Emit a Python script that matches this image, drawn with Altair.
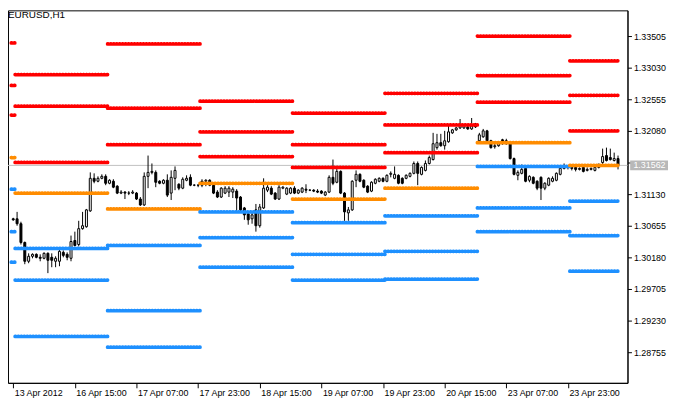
import altair as alt
import pandas as pd

# ---------------- data ----------------
symbol_title = "EURUSD,H1"
last_price = 1.31562

bar_open = [
    1.30760, 1.30760, 1.30686, 1.30404, 1.30122, 1.30197, 1.30226, 1.30182, 1.30167, 1.30241,
    1.30182, 1.30122, 1.30122, 1.30256, 1.30226, 1.30167, 1.30434, 1.30374, 1.30612, 1.30641,
    1.30879, 1.31368, 1.31324, 1.31368, 1.31398, 1.31294, 1.31324, 1.31250, 1.31146, 1.31161,
    1.31146, 1.31146, 1.31146, 1.31057, 1.30968, 1.31398, 1.31457, 1.31457, 1.31324, 1.31294,
    1.31339, 1.31146, 1.31368, 1.31279, 1.31220, 1.31339, 1.31383, 1.31265, 1.31265, 1.31265,
    1.31324, 1.31339, 1.31265, 1.31161, 1.31087, 1.31146, 1.31161, 1.31161, 1.31176, 1.31087,
    1.30923, 1.30834, 1.30760, 1.30894, 1.30656, 1.30923, 1.31190, 1.31220, 1.31146, 1.31057,
    1.31220, 1.31131, 1.31146, 1.31220, 1.31146, 1.31161, 1.31205, 1.31190, 1.31190, 1.31176,
    1.31176, 1.31116, 1.31161, 1.31383, 1.31309, 1.31472, 1.31146, 1.30849, 1.30894, 1.31339,
    1.31428, 1.31339, 1.31250, 1.31176, 1.31294, 1.31324, 1.31368, 1.31324, 1.31428, 1.31368,
    1.31413, 1.31368, 1.31368, 1.31398, 1.31443, 1.31591, 1.31428, 1.31487, 1.31591, 1.31650,
    1.31829, 1.31903, 1.31858, 1.31918, 1.32051, 1.32096, 1.32125, 1.32125, 1.32140, 1.32110,
    1.32155, 1.31932, 1.31992, 1.32081, 1.31932, 1.31843, 1.31858, 1.31947, 1.31932, 1.31888,
    1.31665, 1.31413, 1.31443, 1.31517, 1.31339, 1.31383, 1.31324, 1.31383, 1.31220, 1.31265,
    1.31324, 1.31339, 1.31428, 1.31517, 1.31547, 1.31532, 1.31532, 1.31502, 1.31532, 1.31487,
    1.31502, 1.31487, 1.31532, 1.31606, 1.31710, 1.31680, 1.31636, 1.31665,
]
bar_high = [
    1.30775, 1.30864, 1.30716, 1.30419, 1.30241, 1.30241, 1.30241, 1.30226, 1.30256, 1.30256,
    1.30241, 1.30197, 1.30300, 1.30285, 1.30256, 1.30508, 1.30567, 1.30730, 1.30864, 1.30908,
    1.31457, 1.31443, 1.31398, 1.31428, 1.31428, 1.31354, 1.31354, 1.31265, 1.31190, 1.31176,
    1.31176, 1.31190, 1.31161, 1.31087, 1.31457, 1.31710, 1.31591, 1.31487, 1.31339, 1.31354,
    1.31428, 1.31487, 1.31547, 1.31294, 1.31383, 1.31413, 1.31428, 1.31279, 1.31279, 1.31354,
    1.31354, 1.31354, 1.31279, 1.31190, 1.31235, 1.31250, 1.31250, 1.31235, 1.31205, 1.31101,
    1.30938, 1.30849, 1.30864, 1.30983, 1.30983, 1.31368, 1.31265, 1.31250, 1.31161, 1.31265,
    1.31250, 1.31235, 1.31235, 1.31250, 1.31205, 1.31235, 1.31279, 1.31205, 1.31205, 1.31205,
    1.31190, 1.31176, 1.31413, 1.31650, 1.31532, 1.31487, 1.31161, 1.30938, 1.31339, 1.31487,
    1.31443, 1.31354, 1.31265, 1.31324, 1.31368, 1.31383, 1.31383, 1.31428, 1.31472, 1.31547,
    1.31428, 1.31383, 1.31428, 1.31457, 1.31621, 1.31621, 1.31547, 1.31636, 1.31710, 1.32051,
    1.32036, 1.32036, 1.32081, 1.32170, 1.32110, 1.32140, 1.32259, 1.32185, 1.32170, 1.32274,
    1.32200, 1.32051, 1.32110, 1.32096, 1.31947, 1.31888, 1.31903, 1.31962, 1.31962, 1.31903,
    1.31680, 1.31487, 1.31576, 1.31532, 1.31413, 1.31398, 1.31339, 1.31398, 1.31309, 1.31383,
    1.31398, 1.31457, 1.31532, 1.31591, 1.31561, 1.31547, 1.31547, 1.31532, 1.31547, 1.31532,
    1.31532, 1.31561, 1.31591, 1.31814, 1.31829, 1.31814, 1.31754, 1.31710,
]
bar_low = [
    1.30730, 1.30656, 1.30374, 1.30078, 1.30093, 1.30167, 1.30167, 1.30122, 1.30152, 1.29944,
    1.30033, 1.30033, 1.30048, 1.30182, 1.30137, 1.30122, 1.30345, 1.30345, 1.30597, 1.30627,
    1.30864, 1.31294, 1.31309, 1.31354, 1.31265, 1.31279, 1.31220, 1.31131, 1.31131, 1.31057,
    1.31116, 1.31131, 1.31042, 1.30953, 1.30953, 1.31220, 1.31428, 1.31235, 1.31279, 1.31279,
    1.31087, 1.31042, 1.31190, 1.31190, 1.31205, 1.31324, 1.31250, 1.31250, 1.31235, 1.31235,
    1.31250, 1.31250, 1.31131, 1.31072, 1.31072, 1.31131, 1.31087, 1.31072, 1.30864, 1.30879,
    1.30745, 1.30671, 1.30686, 1.30567, 1.30627, 1.30908, 1.31161, 1.31116, 1.31042, 1.31042,
    1.31205, 1.31116, 1.31131, 1.31131, 1.31131, 1.31146, 1.31146, 1.31176, 1.31161, 1.31146,
    1.31131, 1.31101, 1.31146, 1.31265, 1.31294, 1.31131, 1.30730, 1.30730, 1.30879, 1.31235,
    1.31309, 1.31220, 1.31146, 1.31161, 1.31279, 1.31309, 1.31309, 1.31309, 1.31383, 1.31354,
    1.31279, 1.31279, 1.31354, 1.31383, 1.31428, 1.31265, 1.31413, 1.31472, 1.31576, 1.31636,
    1.31799, 1.31843, 1.31799, 1.31903, 1.32036, 1.32081, 1.32110, 1.32110, 1.32096, 1.32096,
    1.32125, 1.31918, 1.31977, 1.31918, 1.31814, 1.31814, 1.31843, 1.31873, 1.31873, 1.31650,
    1.31413, 1.31339, 1.31428, 1.31309, 1.31309, 1.31279, 1.31190, 1.31042, 1.31190, 1.31250,
    1.31309, 1.31324, 1.31413, 1.31502, 1.31502, 1.31487, 1.31472, 1.31487, 1.31457, 1.31472,
    1.31487, 1.31472, 1.31517, 1.31576, 1.31621, 1.31636, 1.31621, 1.31502,
]
bar_close = [
    1.30745, 1.30686, 1.30404, 1.30122, 1.30197, 1.30226, 1.30182, 1.30167, 1.30241, 1.30137,
    1.30137, 1.30167, 1.30271, 1.30211, 1.30182, 1.30419, 1.30360, 1.30612, 1.30656, 1.30894,
    1.31368, 1.31324, 1.31368, 1.31398, 1.31294, 1.31339, 1.31235, 1.31146, 1.31161, 1.31146,
    1.31146, 1.31161, 1.31057, 1.30968, 1.31398, 1.31457, 1.31472, 1.31309, 1.31294, 1.31339,
    1.31116, 1.31383, 1.31487, 1.31220, 1.31354, 1.31368, 1.31265, 1.31265, 1.31265, 1.31324,
    1.31339, 1.31265, 1.31146, 1.31087, 1.31220, 1.31220, 1.31220, 1.31205, 1.31072, 1.30894,
    1.30819, 1.30745, 1.30819, 1.30656, 1.30938, 1.31220, 1.31235, 1.31131, 1.31057, 1.31235,
    1.31235, 1.31220, 1.31220, 1.31146, 1.31190, 1.31220, 1.31190, 1.31190, 1.31176, 1.31161,
    1.31146, 1.31161, 1.31383, 1.31294, 1.31472, 1.31146, 1.30864, 1.30894, 1.31324, 1.31428,
    1.31324, 1.31235, 1.31161, 1.31309, 1.31354, 1.31368, 1.31324, 1.31413, 1.31443, 1.31428,
    1.31294, 1.31294, 1.31413, 1.31443, 1.31591, 1.31443, 1.31532, 1.31591, 1.31680, 1.31888,
    1.31903, 1.31858, 1.31932, 1.32066, 1.32096, 1.32125, 1.32170, 1.32170, 1.32110, 1.32155,
    1.32140, 1.32021, 1.32081, 1.31932, 1.31829, 1.31858, 1.31888, 1.31888, 1.31888, 1.31665,
    1.31428, 1.31457, 1.31502, 1.31324, 1.31398, 1.31294, 1.31220, 1.31220, 1.31294, 1.31368,
    1.31368, 1.31443, 1.31517, 1.31561, 1.31532, 1.31517, 1.31502, 1.31517, 1.31472, 1.31502,
    1.31517, 1.31532, 1.31576, 1.31695, 1.31636, 1.31650, 1.31665, 1.31562,
]

# daily pivot levels: one entry per trading day (first/last bar of each day)
day_first_bar = [0, 1, 25, 49, 73, 97, 121, 145]
day_last_bar = [0, 24, 48, 72, 96, 120, 144, 157]
level_r3 = [1.33402, 1.32927, 1.33387, 1.32526, 1.32348, 1.32645, 1.33505, 1.33134]
level_r2 = [1.32763, 1.32452, 1.32422, 1.32066, 1.31873, 1.32170, 1.32912, 1.32615]
level_r1 = [1.32318, 1.31606, 1.31873, 1.31695, 1.31532, 1.31754, 1.32511, 1.32081]
level_pp = [1.31680, 1.31146, 1.30908, 1.31294, 1.31057, 1.31220, 1.31903, 1.31561]
level_s1 = [1.31205, 1.30315, 1.30360, 1.30864, 1.30701, 1.30805, 1.31547, 1.31027]
level_s2 = [1.30567, 1.29840, 1.29380, 1.30478, 1.30226, 1.30271, 1.30923, 1.30508]
level_s3 = [1.30108, 1.28994, 1.28831, 1.30033, 1.29840, 1.29855, 1.30567, 1.29974]

tick_bars = [0, 16, 32, 48, 64, 80, 96, 112, 128, 144]
tick_labels = ["13 Apr 2012", "16 Apr 15:00", "17 Apr 07:00", "17 Apr 23:00",
               "18 Apr 15:00", "19 Apr 07:00", "19 Apr 23:00", "20 Apr 15:00",
               "23 Apr 07:00", "23 Apr 23:00"]
price_ticks = [1.28755, 1.29230, 1.29705, 1.30180, 1.30655, 1.31130,
               1.31605, 1.32080, 1.32555, 1.33030, 1.33505]

# ---------------- tables ----------------
candles = pd.DataFrame({
    "bar": list(range(len(bar_open))),
    "open": bar_open, "high": bar_high, "low": bar_low, "close": bar_close,
})
candles["dir"] = ["up" if c >= o else "down" for o, c in zip(bar_open, bar_close)]

rows = []
for k in range(len(day_first_bar)):
    for name, arr in [("R3", level_r3), ("R2", level_r2), ("R1", level_r1),
                      ("PP", level_pp), ("S1", level_s1), ("S2", level_s2), ("S3", level_s3)]:
        rows.append({"start": day_first_bar[k] - 0.5, "end": day_last_bar[k] + 0.5,
                     "level": arr[k], "kind": name})
levels = pd.DataFrame(rows)

last_df = pd.DataFrame({"price": [last_price], "label": [f"{last_price:.5f}"]})
title_df = pd.DataFrame({"t": [symbol_title]})

# ---------------- chart ----------------
W, H = 627, 377
X_DOMAIN = [-0.075, 158.175]
Y_DOMAIN = [1.28296, 1.33891]
FONT = "Liberation Sans"

x_label_expr = "[" + ",".join(f"'{t}'" for t in tick_labels) + "][round(datum.value / 16)]"
# the tick label hidden behind the current-price box is left blank
y_label_expr = f"abs(datum.value - {last_price}) < 0.0007 ? '' : format(datum.value, '.5f')"

x_axis = alt.Axis(values=tick_bars, labelExpr=x_label_expr, labelAlign="left", labelOffset=1,
                  labelBaseline="top", labelPadding=1, tickSize=5, tickColor="black",
                  domainColor="black", labelColor="black", labelFont=FONT, labelFontSize=9,
                  grid=False, labelOverlap=False, labelFlush=False, title=None)
y_axis = alt.Axis(orient="right", values=price_ticks, labelExpr=y_label_expr, tickSize=4,
                  tickColor="black", domainColor="black", labelColor="black",
                  labelFont=FONT, labelFontSize=9, labelPadding=2, grid=False,
                  labelOverlap=False, labelFlush=False, title=None)

xs = alt.Scale(domain=X_DOMAIN, nice=False, zero=False)
ys = alt.Scale(domain=Y_DOMAIN, nice=False, zero=False)


def X(field):
    return alt.X(field, type="quantitative", scale=xs, axis=x_axis)


def Y(field):
    return alt.Y(field, type="quantitative", scale=ys, axis=y_axis)


price_line = alt.Chart(last_df).mark_rule(color="#c0c0c0", strokeWidth=1).encode(
    y=Y("price"), x=alt.value(0), x2=alt.value(W))

wicks = alt.Chart(candles).mark_rule(color="black", strokeWidth=1).encode(
    x=X("bar"), y=Y("low"), y2="high")

bodies = alt.Chart(candles).mark_bar(size=2, stroke="black", strokeWidth=1).encode(
    x=X("bar"), y=Y("open"), y2="close",
    fill=alt.Fill("dir:N", scale=alt.Scale(domain=["up", "down"], range=["white", "black"]),
                  legend=None))

level_lines = alt.Chart(levels).mark_rule(strokeWidth=3.8, strokeDash=[0.5, 2.5],
                                          strokeCap="round").encode(
    x=X("start"), x2="end", y=Y("level"),
    color=alt.Color("kind:N",
                    scale=alt.Scale(domain=["R3", "R2", "R1", "PP", "S1", "S2", "S3"],
                                    range=["#ff0000", "#ff0000", "#ff0000", "#ff8c00",
                                           "#1e90ff", "#1e90ff", "#1e90ff"]),
                    legend=None))

title_text = alt.Chart(title_df).mark_text(align="left", baseline="alphabetic", font=FONT,
                                           fontSize=10, color="black").encode(
    x=alt.value(0), y=alt.value(8), text="t:N")

price_box = alt.Chart(last_df).mark_point(shape="M-1,-0.26H1V0.26H-1Z", size=38.3 ** 2,
                                          filled=True, color="#b8b8b8", opacity=1,
                                          strokeWidth=0).encode(
    x=alt.value(W + 21.85), y=Y("price"))

price_text = alt.Chart(last_df).mark_text(align="left", baseline="middle", font=FONT,
                                          fontSize=9, color="white").encode(
    x=alt.value(W + 6), y=Y("price"), text="label:N")

chart = alt.layer(price_line, wicks, bodies, level_lines, title_text, price_box, price_text).properties(
    width=W, height=H,
    autosize=alt.AutoSizeParams(type="none"),
    padding={"left": 0, "top": 0, "right": 41, "bottom": 17},
    background="white",
).configure_view(stroke="black", strokeWidth=1)

chart.save("out.html", embed_options={"renderer": "svg", "actions": False})
